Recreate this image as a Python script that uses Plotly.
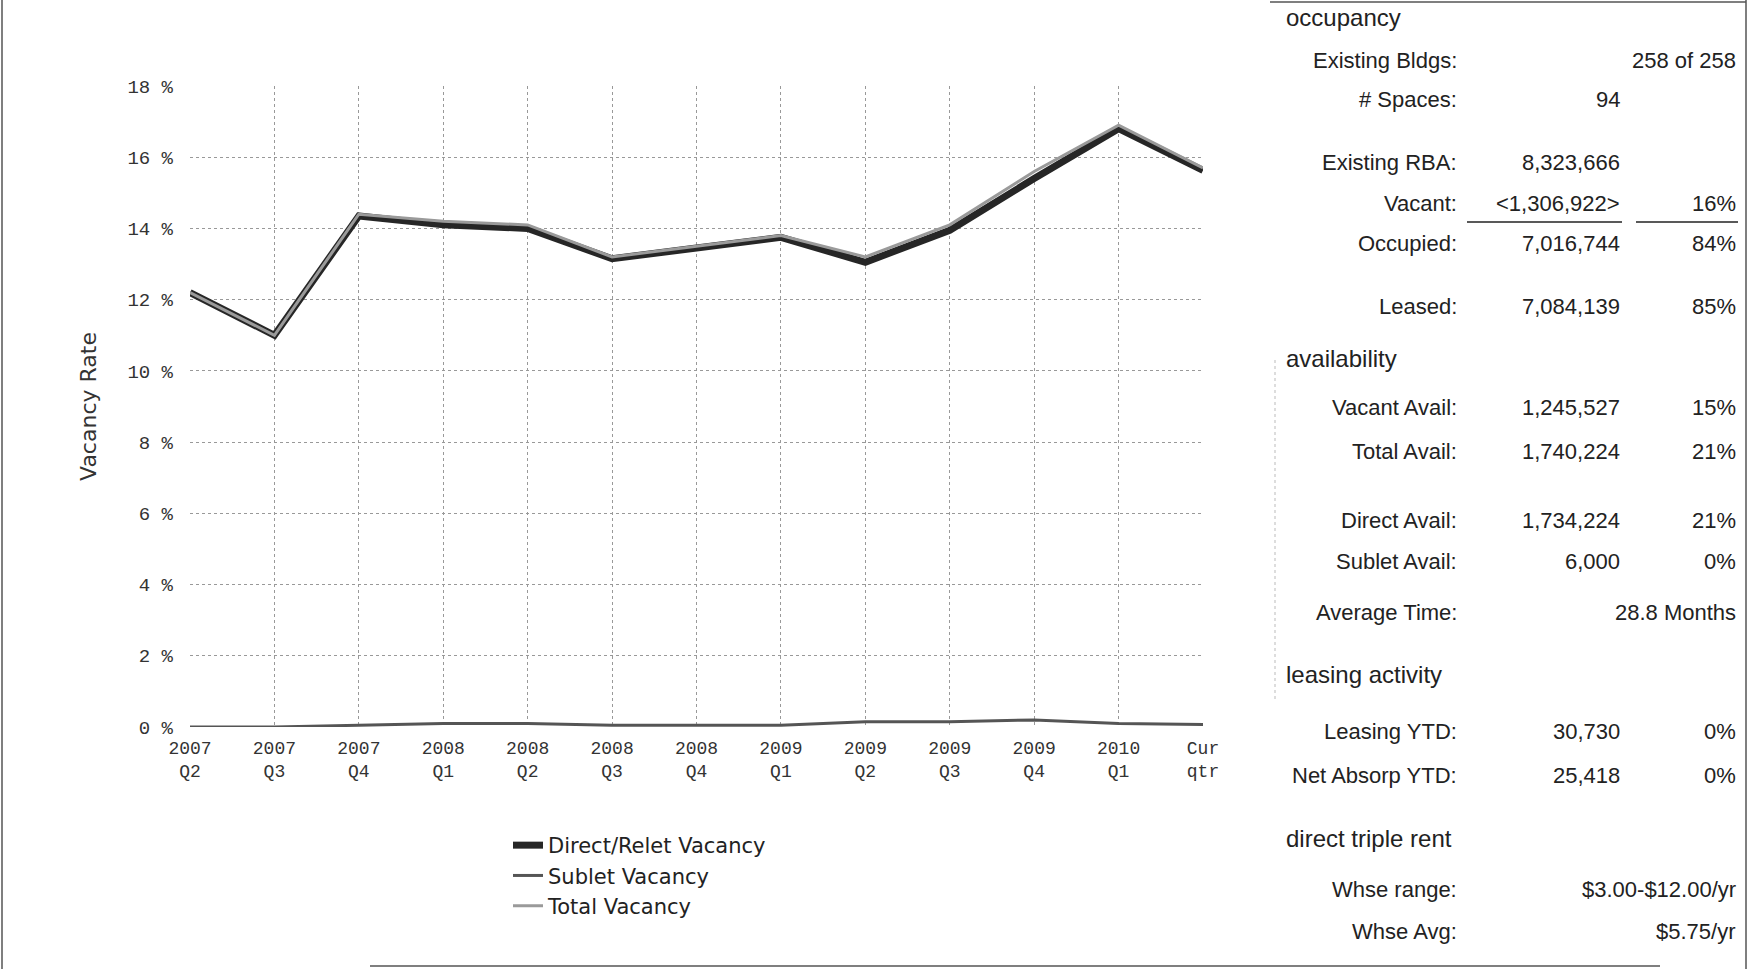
import plotly.graph_objects as go

# ---------------- data ----------------
quarters = ["2007 Q2", "2007 Q3", "2007 Q4", "2008 Q1", "2008 Q2", "2008 Q3", "2008 Q4",
            "2009 Q1", "2009 Q2", "2009 Q3", "2009 Q4", "2010 Q1", "Cur qtr"]
tick_labels = ["2007<br>Q2", "2007<br>Q3", "2007<br>Q4", "2008<br>Q1", "2008<br>Q2", "2008<br>Q3",
               "2008<br>Q4", "2009<br>Q1", "2009<br>Q2", "2009<br>Q3", "2009<br>Q4", "2010<br>Q1", "Cur<br>qtr"]
total_vacancy = [12.2, 11.0, 14.4, 14.2, 14.1, 13.2, 13.5, 13.8, 13.2, 14.1, 15.6, 16.9, 15.7]
sublet_vacancy = [0.0, 0.0, 0.05, 0.1, 0.1, 0.05, 0.05, 0.05, 0.15, 0.15, 0.2, 0.1, 0.07]
direct_vacancy = [12.2, 11.0, 14.35, 14.1, 14.0, 13.15, 13.45, 13.75, 13.05, 13.95, 15.4, 16.8, 15.63]
y_ticks = [0, 2, 4, 6, 8, 10, 12, 14, 16, 18]
y_tick_text = ["0 %", "2 %", "4 %", "6 %", "8 %", "10 %", "12 %", "14 %", "16 %", "18 %"]

sections = ["occupancy", "availability", "leasing activity", "direct triple rent"]
row_labels = ["Existing Bldgs:", "# Spaces:", "Existing RBA:", "Vacant:", "Occupied:", "Leased:",
              "Vacant Avail:", "Total Avail:", "Direct Avail:", "Sublet Avail:", "Average Time:",
              "Leasing YTD:", "Net Absorp YTD:", "Whse range:", "Whse Avg:"]
row_values = ["", "94", "8,323,666", "<1,306,922>", "7,016,744", "7,084,139",
              "1,245,527", "1,740,224", "1,734,224", "6,000", "",
              "30,730", "25,418", "", ""]
row_pcts = ["258 of 258", "", "", "16%", "84%", "85%",
            "15%", "21%", "21%", "0%", "28.8 Months",
            "0%", "0%", "$3.00-$12.00/yr", "$5.75/yr"]

# ---------------- layout geometry (pixels) ----------------
W, H = 1749, 969
PL, PR, PT, PB = 190, 1203, 86, 727
section_y = [18, 358, 674, 838]
row_y = [60, 100, 162, 203, 244, 306, 408, 451, 520, 561, 612, 731, 775, 889, 931]


def xp(px):
    return (px - PL) / (PR - PL)


def yp(py):
    return (PB - py) / (PB - PT)


fig = go.Figure()
fig.add_trace(go.Scatter(x=list(range(len(quarters))), y=direct_vacancy, name="Direct/Relet Vacancy",
                         mode="lines", line=dict(color="#262626", width=7)))
fig.add_trace(go.Scatter(x=list(range(len(quarters))), y=sublet_vacancy, name="Sublet Vacancy",
                         mode="lines", line=dict(color="#555555", width=3)))
fig.add_trace(go.Scatter(x=list(range(len(quarters))), y=total_vacancy, name="Total Vacancy",
                         mode="lines", line=dict(color="#9a9a9a", width=3)))

font_chart = "DejaVu Sans, Verdana, sans-serif"
font_mono = "Liberation Mono, Courier New, monospace"
font_table = "Liberation Sans, Arial, sans-serif"

ann = []
for s, y in zip(sections, section_y):
    ann.append(dict(text=s, x=xp(1284), y=yp(y), xref="paper", yref="paper", xanchor="left",
                    yanchor="middle", showarrow=False, font=dict(family=font_table, size=24, color="#222")))
for lab, val, pct, y in zip(row_labels, row_values, row_pcts, row_y):
    ann.append(dict(text=lab, x=xp(1459), y=yp(y), xref="paper", yref="paper", xanchor="right",
                    yanchor="middle", showarrow=False, font=dict(family=font_table, size=22, color="#222")))
    if val:
        ann.append(dict(text=val, x=xp(1622), y=yp(y), xref="paper", yref="paper", xanchor="right",
                        yanchor="middle", showarrow=False, font=dict(family=font_table, size=22, color="#222")))
    if pct:
        ann.append(dict(text=pct, x=xp(1738), y=yp(y), xref="paper", yref="paper", xanchor="right",
                        yanchor="middle", showarrow=False, font=dict(family=font_table, size=22, color="#222")))

shapes = [
    dict(type="line", xref="paper", yref="paper", x0=xp(1467), x1=xp(1622), y0=yp(222), y1=yp(222),
         line=dict(color="#222", width=1.5)),
    dict(type="line", xref="paper", yref="paper", x0=xp(1636), x1=xp(1738), y0=yp(222), y1=yp(222),
         line=dict(color="#222", width=1.5)),
    # page frame
    dict(type="line", xref="paper", yref="paper", x0=xp(2), x1=xp(2), y0=yp(0), y1=yp(969),
         line=dict(color="#555", width=1.5)),
    dict(type="line", xref="paper", yref="paper", x0=xp(1270), x1=xp(1746), y0=yp(2), y1=yp(2),
         line=dict(color="#555", width=1.5)),
    dict(type="line", xref="paper", yref="paper", x0=xp(1746), x1=xp(1746), y0=yp(0), y1=yp(969),
         line=dict(color="#555", width=1.5)),
    dict(type="line", xref="paper", yref="paper", x0=xp(370), x1=xp(1660), y0=yp(966), y1=yp(966),
         line=dict(color="#555", width=1.5)),
    dict(type="line", xref="paper", yref="paper", x0=xp(1275), x1=xp(1275), y0=yp(360), y1=yp(700),
         line=dict(color="#bbb", width=1, dash="dot")),
]

fig.update_layout(
    width=W, height=H,
    margin=dict(l=PL, r=W - PR, t=PT, b=H - PB),
    paper_bgcolor="white", plot_bgcolor="white",
    font=dict(family=font_chart, size=13, color="#333"),
    showlegend=True,
    legend=dict(x=xp(508), y=yp(825), xanchor="left", yanchor="top", xref="paper", yref="paper",
                font=dict(family=font_chart, size=21, color="#222"), tracegroupgap=0,
                bgcolor="rgba(0,0,0,0)"),
    annotations=ann,
    shapes=shapes,
)
fig.update_xaxes(range=[0, 12], tickmode="array", tickvals=list(range(len(quarters))), ticktext=tick_labels,
                 tickangle=0, showgrid=True, gridcolor="#999", griddash="dot", gridwidth=1,
                 zeroline=False, showline=False, ticks="", ticklabelstandoff=8,
                 tickfont=dict(family=font_mono, size=18, color="#333"))
fig.update_yaxes(range=[0, 18], tickmode="array", tickvals=y_ticks, ticktext=y_tick_text,
                 showgrid=True, gridcolor="#999", griddash="dot", gridwidth=1,
                 zeroline=False, showline=False, ticks="", ticklabelstandoff=16,
                 title=dict(text="Vacancy Rate", font=dict(family=font_chart, size=22, color="#333"), standoff=24),
                 tickfont=dict(family=font_mono, size=19, color="#333"))

fig.write_html("out.html")
